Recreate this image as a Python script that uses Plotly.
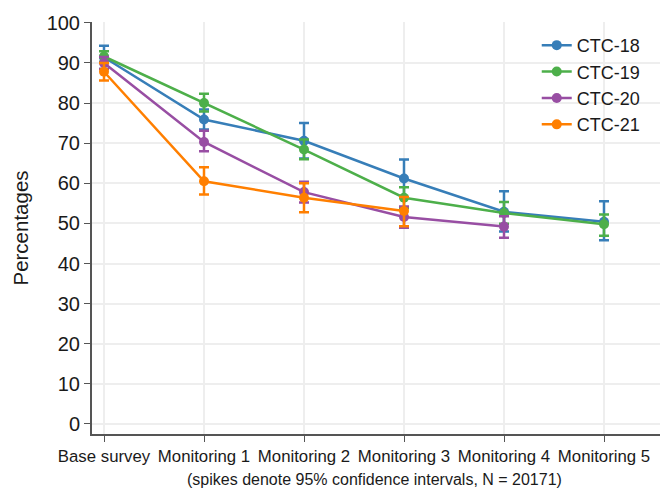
import plotly.graph_objects as go

categories = ["Base survey", "Monitoring 1", "Monitoring 2", "Monitoring 3", "Monitoring 4", "Monitoring 5"]

series_names = ["CTC-18", "CTC-19", "CTC-20", "CTC-21"]
colors = ["#377eb8", "#4daf4a", "#984ea3", "#ff7f00"]

ctc18_mean = [91.4, 75.9, 70.6, 61.2, 52.9, 50.4]
ctc18_upper = [94.3, 78.4, 75.0, 65.9, 58.0, 55.5]
ctc18_lower = [88.5, 73.4, 66.2, 56.5, 48.0, 45.8]

ctc19_mean = [91.6, 80.0, 68.4, 56.4, 52.6, 49.8]
ctc19_upper = [92.9, 82.3, 70.9, 59.0, 55.3, 52.2]
ctc19_lower = [90.3, 77.9, 66.0, 53.8, 49.9, 46.9]

ctc20_mean = [90.0, 70.3, 57.8, 51.6, 49.2]
ctc20_upper = [91.5, 73.1, 60.4, 54.2, 51.8]
ctc20_lower = [88.5, 68.0, 55.2, 48.9, 46.4]

ctc21_mean = [87.8, 60.5, 56.4, 53.1]
ctc21_upper = [90.0, 64.0, 60.0, 56.6]
ctc21_lower = [85.6, 57.2, 52.8, 49.3]

y_ticks = [0, 10, 20, 30, 40, 50, 60, 70, 80, 90, 100]

all_series = [
    (ctc18_mean, ctc18_upper, ctc18_lower),
    (ctc19_mean, ctc19_upper, ctc19_lower),
    (ctc20_mean, ctc20_upper, ctc20_lower),
    (ctc21_mean, ctc21_upper, ctc21_lower),
]

fig = go.Figure()
for name, color, (m, u, l) in zip(series_names, colors, all_series):
    n = len(m)
    fig.add_trace(go.Scatter(
        x=list(range(n)), y=m, name=name, mode="lines+markers",
        line=dict(color=color, width=2.5),
        marker=dict(color=color, size=10),
        error_y=dict(type="data", symmetric=False,
                     array=[uu - mm for uu, mm in zip(u, m)],
                     arrayminus=[mm - ll for mm, ll in zip(m, l)],
                     color=color, thickness=2.5, width=5),
    ))

fig.update_layout(
    width=664, height=489,
    margin=dict(l=92, r=4, t=22, b=55),
    plot_bgcolor="white", paper_bgcolor="white",
    font=dict(family="Liberation Sans, Arial, sans-serif", color="#1a1a1a", size=16),
    showlegend=True,
    legend=dict(x=0.783, y=0.988, xanchor="left", yanchor="top",
                bgcolor="rgba(0,0,0,0)", font=dict(size=18),
                tracegroupgap=0),
    xaxis=dict(
        range=[-0.12, 5.56],
        tickmode="array", tickvals=list(range(len(categories))), ticktext=categories,
        showgrid=True, gridcolor="#eeeeee", gridwidth=1.5,
        showline=True, linecolor="#555555", linewidth=2,
        ticks="outside", ticklen=6, tickcolor="#555555", tickwidth=1,
        tickfont=dict(size=16.8), zeroline=False,
    ),
    yaxis=dict(
        range=[-2.5, 100.2],
        tickmode="array", tickvals=y_ticks,
        showgrid=True, gridcolor="#eeeeee", gridwidth=1.5,
        showline=True, linecolor="#555555", linewidth=2,
        ticks="outside", ticklen=6, tickcolor="#555555", tickwidth=1,
        tickfont=dict(size=20), zeroline=False,
        title=dict(text="Percentages", font=dict(size=20.5), standoff=12),
    ),
    annotations=[dict(
        text="(spikes denote 95% confidence intervals, N = 20171)",
        xref="paper", yref="paper", x=(374 - 92) / 568, y=0,
        xanchor="center", yanchor="top", yshift=-35, showarrow=False,
        font=dict(size=16),
    )],
)

fig.write_html("out.html", config={"displayModeBar": False},
               post_script="document.body.style.margin='0';document.body.style.padding='0';")
